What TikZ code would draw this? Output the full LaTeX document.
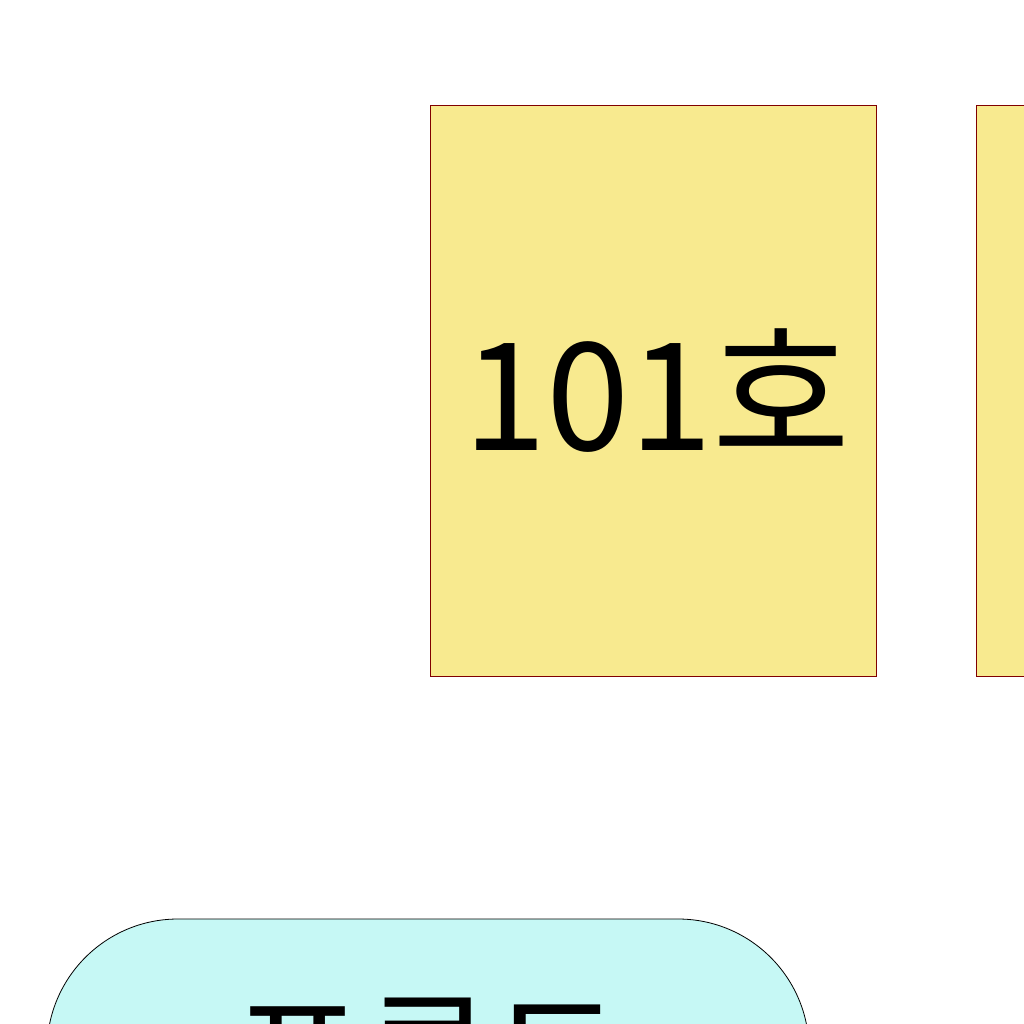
\documentclass[tikz,border=0pt]{standalone}
\usepackage{fontspec}
\newfontfamily\krfont{Noto Sans CJK KR}
\usetikzlibrary{positioning}
\definecolor{roomyellow}{RGB}{248,234,143}
\definecolor{roomedge}{RGB}{128,0,0}
\definecolor{frontcyan}{RGB}{198,248,245}
\begin{document}
\begin{tikzpicture}[
    x=1pt, y=-1pt,
    node distance=99pt,
    every node/.style={font=\krfont},
    room/.style={draw=roomedge, fill=roomyellow, line width=1pt, minimum width=446pt, minimum height=570pt, inner sep=0pt, font=\krfont\fontsize{150}{160}\selectfont},
    desk/.style={draw=black, fill=frontcyan, line width=0.8pt, rounded corners=131pt, minimum width=762pt, minimum height=280pt, inner sep=0pt, font=\krfont\fontsize{141}{160}\selectfont}
]
\useasboundingbox (0,0) rectangle (1024,1024);
\clip (0,0) rectangle (1024,1024);
\node[room] (room101) at (653,391) {\hspace*{8pt}\raisebox{-8pt}{101호}};
\node[room, right=of room101] (room102) {};
\node[desk] (front) at (428,1059) {\raisebox{-13pt}{프론트}};
\end{tikzpicture}
\end{document}
